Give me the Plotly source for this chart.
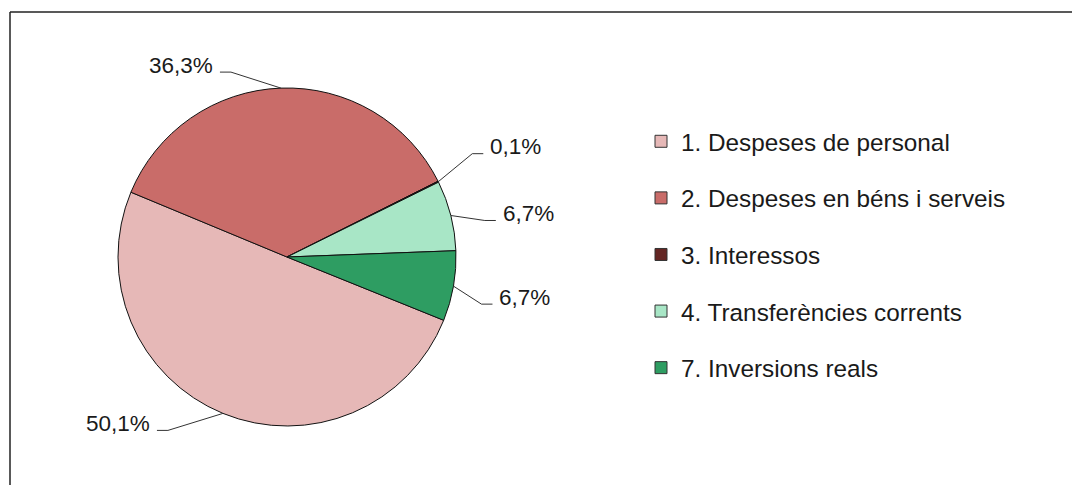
import plotly.graph_objects as go
import math

# ---- data ----
categories = ["1. Despeses de personal", "2. Despeses en béns i serveis",
              "3. Interessos", "4. Transferències corrents", "7. Inversions reals"]
values = [50.1, 36.3, 0.1, 6.7, 6.7]
colors = ["#E6B8B7", "#C96C69", "#632523", "#A8E6C6", "#2E9D62"]
pct_labels = [f"{v:.1f}".replace(".", ",") + "%" for v in values]

# ---- layout constants (pixels) ----
W, H = 1072, 485
CX, CY, R = 287, 257, 169
START_ANGLE = 112  # degrees clockwise from 12 o'clock
# elbow offsets of the leader lines relative to slice-edge point, and horizontal stub direction
elbow = [(-55, 17, -1), (-50, -16, -1), (34, -28, 1), (34, 5, 1), (28, 18, 1)]
STUB = 11
FONT = "Liberation Sans, Arial, Helvetica, sans-serif"
TXT = "#1a1a1a"


def px(x):
    return x / W


def py(y):
    return 1 - y / H


fig = go.Figure()
fig.add_trace(go.Pie(
    labels=categories, values=values, sort=False, direction="clockwise",
    rotation=START_ANGLE, textinfo="none", hoverinfo="label+percent",
    marker=dict(colors=colors, line=dict(color="#111111", width=1)),
    domain=dict(x=[px(CX - R), px(CX + R)], y=[py(CY + R), py(CY - R)]),
    showlegend=False,
))

# legend via proxy traces
for i, (c, col) in enumerate(zip(categories, colors)):
    fig.add_trace(go.Scatter(
        x=[None], y=[None], mode="markers", name=c, legendgroup=f"g{i}",
        marker=dict(symbol="square", size=12, color=col, line=dict(color="#333333", width=1)),
    ))

# leader lines and labels computed from data
total = sum(values)
shapes = []
annotations = []
cum = 0.0
for i, v in enumerate(values):
    mid = START_ANGLE + (cum + v / 2) / total * 360
    cum += v
    a = math.radians(mid)
    ex, ey = CX + R * math.sin(a), CY - R * math.cos(a)
    dx, dy, side = elbow[i]
    bx, by = ex + dx, ey + dy
    sx = bx + side * STUB
    shapes.append(dict(type="path", xref="paper", yref="paper",
                       path=f"M {px(ex)},{py(ey)} L {px(bx)},{py(by)} L {px(sx)},{py(by)}",
                       line=dict(color="#333333", width=1)))
    annotations.append(dict(
        x=px(sx + side * 5), y=py(by - 7), xref="paper", yref="paper",
        text=pct_labels[i], showarrow=False,
        xanchor="left" if side > 0 else "right", yanchor="middle",
        font=dict(family=FONT, size=22.5, color=TXT)))

# frame: left and top edges only, top edge stops short of the page edge test
shapes.append(dict(type="line", xref="paper", yref="paper",
                   x0=px(10), y0=0, x1=px(10), y1=py(12),
                   line=dict(color="#222222", width=1.5)))
shapes.append(dict(type="line", xref="paper", yref="paper",
                   x0=px(10), y0=py(12), x1=1, y1=py(12),
                   line=dict(color="#222222", width=1.5)))

fig.update_layout(
    width=W, height=H, margin=dict(l=0, r=0, t=0, b=0),
    paper_bgcolor="white", plot_bgcolor="white",
    xaxis=dict(visible=False), yaxis=dict(visible=False),
    shapes=shapes, annotations=annotations,
    legend=dict(x=px(641), y=py(119), xanchor="left", yanchor="top",
                traceorder="grouped", tracegroupgap=22, itemsizing="trace",
                font=dict(family=FONT, size=24.3, color=TXT), bgcolor="rgba(0,0,0,0)"),
    font=dict(family=FONT),
)

fig.write_html("out.html", config={"displayModeBar": False},
               post_script="document.body.style.margin='0';document.body.style.overflow='hidden';")
